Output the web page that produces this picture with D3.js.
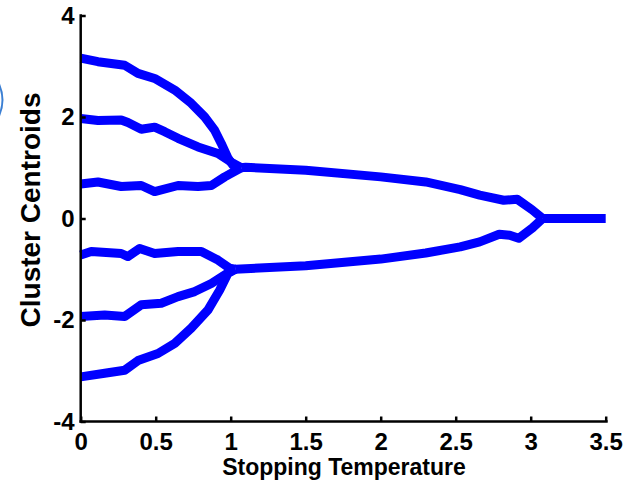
<!DOCTYPE html>
<html>
<head>
<meta charset="utf-8">
<script src="https://cdn.jsdelivr.net/npm/d3@7"></script>
<style>
  body { margin: 0; background: #fff; }
  svg { display: block; }
  text { font-family: "Liberation Sans", Arial, sans-serif; font-weight: bold; fill: #000; }
</style>
</head>
<body>
<svg id="chart" width="631" height="484"></svg>
<script>
// branches of the cluster centroids, [stopping temperature, centroid]
var branchTop = [[0,3.16],[0.115,3.09],[0.293,3.02],[0.382,2.86],[0.493,2.76],[0.627,2.53],[0.737,2.27],[0.827,2.0],[0.893,1.74],[0.937,1.48],[0.982,1.19],[1.015,1.05],[1.07,1.0]];
var branchTwo = [[0,1.97],[0.115,1.93],[0.27,1.94],[0.315,1.89],[0.404,1.76],[0.493,1.80],[0.56,1.71],[0.649,1.58],[0.782,1.41],[0.915,1.28],[1.015,1.09],[1.07,1.0]];
var branchThree = [[0,0.68],[0.115,0.72],[0.27,0.63],[0.404,0.65],[0.493,0.53],[0.649,0.65],[0.782,0.63],[0.871,0.65],[0.96,0.82],[1.07,1.0]];
var mergedUpper = [[1.07,1.0],[1.1,1.01],[1.5,0.95],[2.0,0.82],[2.3,0.72],[2.53,0.57],[2.66,0.46],[2.82,0.36],[2.91,0.38],[3.01,0.17],[3.08,0]];
var branchFour = [[0,-0.72],[0.07,-0.65],[0.27,-0.69],[0.315,-0.75],[0.393,-0.59],[0.493,-0.69],[0.649,-0.65],[0.804,-0.65],[0.915,-0.82],[0.993,-0.98],[1.03,-1.0]];
var branchFive = [[0,-1.93],[0.16,-1.90],[0.293,-1.93],[0.404,-1.70],[0.537,-1.67],[0.649,-1.54],[0.76,-1.44],[0.871,-1.28],[0.993,-1.05],[1.03,-1.0]];
var branchBottom = [[0,-3.12],[0.182,-3.04],[0.293,-2.99],[0.382,-2.80],[0.515,-2.66],[0.627,-2.46],[0.737,-2.16],[0.849,-1.80],[0.927,-1.41],[0.982,-1.08],[1.03,-1.0]];
var mergedLower = [[1.03,-1.0],[1.5,-0.93],[2.0,-0.8],[2.3,-0.68],[2.53,-0.56],[2.66,-0.46],[2.79,-0.31],[2.86,-0.33],[2.92,-0.39],[3.01,-0.19],[3.08,0]];
var mergedZero = [[3.08,0],[3.5,0]];

var xTicks = [0, 0.5, 1, 1.5, 2, 2.5, 3, 3.5];
var yTicks = [-4, -2, 0, 2, 4];

var svg = d3.select("#chart");

var x = d3.scaleLinear().domain([0, 3.5]).range([80.7, 605.7]);
var y = d3.scaleLinear().domain([-4, 4]).range([421.5, 15.5]);

// stray blue arc at the left edge of the picture
svg.append("path")
    .attr("d", "M-1,84 A40,40 0 0 1 -1,116")
    .attr("fill", "none")
    .attr("stroke", "#3b7fd3")
    .attr("stroke-width", 2);

var line = d3.line()
    .x(function(d){ return x(d[0]); })
    .y(function(d){ return y(d[1]); });

var series = [branchTop, branchTwo, branchThree, mergedUpper,
              branchFour, branchFive, branchBottom, mergedLower, mergedZero];

svg.append("g").selectAll("path")
    .data(series)
    .enter()
    .append("path")
    .attr("d", line)
    .attr("fill", "none")
    .attr("stroke", "#0000ff")
    .attr("stroke-width", 9)
    .attr("stroke-linejoin", "round")
    .attr("stroke-linecap", "butt");

var xAxis = svg.append("g")
    .attr("transform", "translate(0," + y(-4) + ")")
    .call(d3.axisBottom(x).tickValues(xTicks).tickFormat(function(d){ return String(d); })
        .tickSizeInner(-5).tickSizeOuter(0).tickPadding(11));

var yAxis = svg.append("g")
    .attr("transform", "translate(" + x(0) + ",0)")
    .call(d3.axisLeft(y).tickValues(yTicks).tickFormat(function(d){ return String(d); })
        .tickSizeInner(-5).tickSizeOuter(0).tickPadding(6));

svg.selectAll(".domain, .tick line")
    .attr("stroke", "#000")
    .attr("stroke-width", 2.5);

xAxis.select(".domain").attr("d", "M" + (x(0) - 1.2) + ",0H" + (x(3.5) + 2));
yAxis.select(".domain").attr("d", "M0," + (y(4) - 1.2) + "V" + (y(-4) + 1.2));

svg.selectAll(".tick text")
    .attr("font-size", 24)
    .attr("font-family", "'Liberation Sans', Arial, sans-serif")
    .attr("font-weight", "bold");

svg.append("text")
    .attr("x", 344)
    .attr("y", 475)
    .attr("text-anchor", "middle")
    .attr("font-size", 23)
    .text("Stopping Temperature");

svg.append("text")
    .attr("transform", "translate(40,210) rotate(-90)")
    .attr("text-anchor", "middle")
    .attr("font-size", 28)
    .text("Cluster Centroids");
</script>
</body>
</html>
